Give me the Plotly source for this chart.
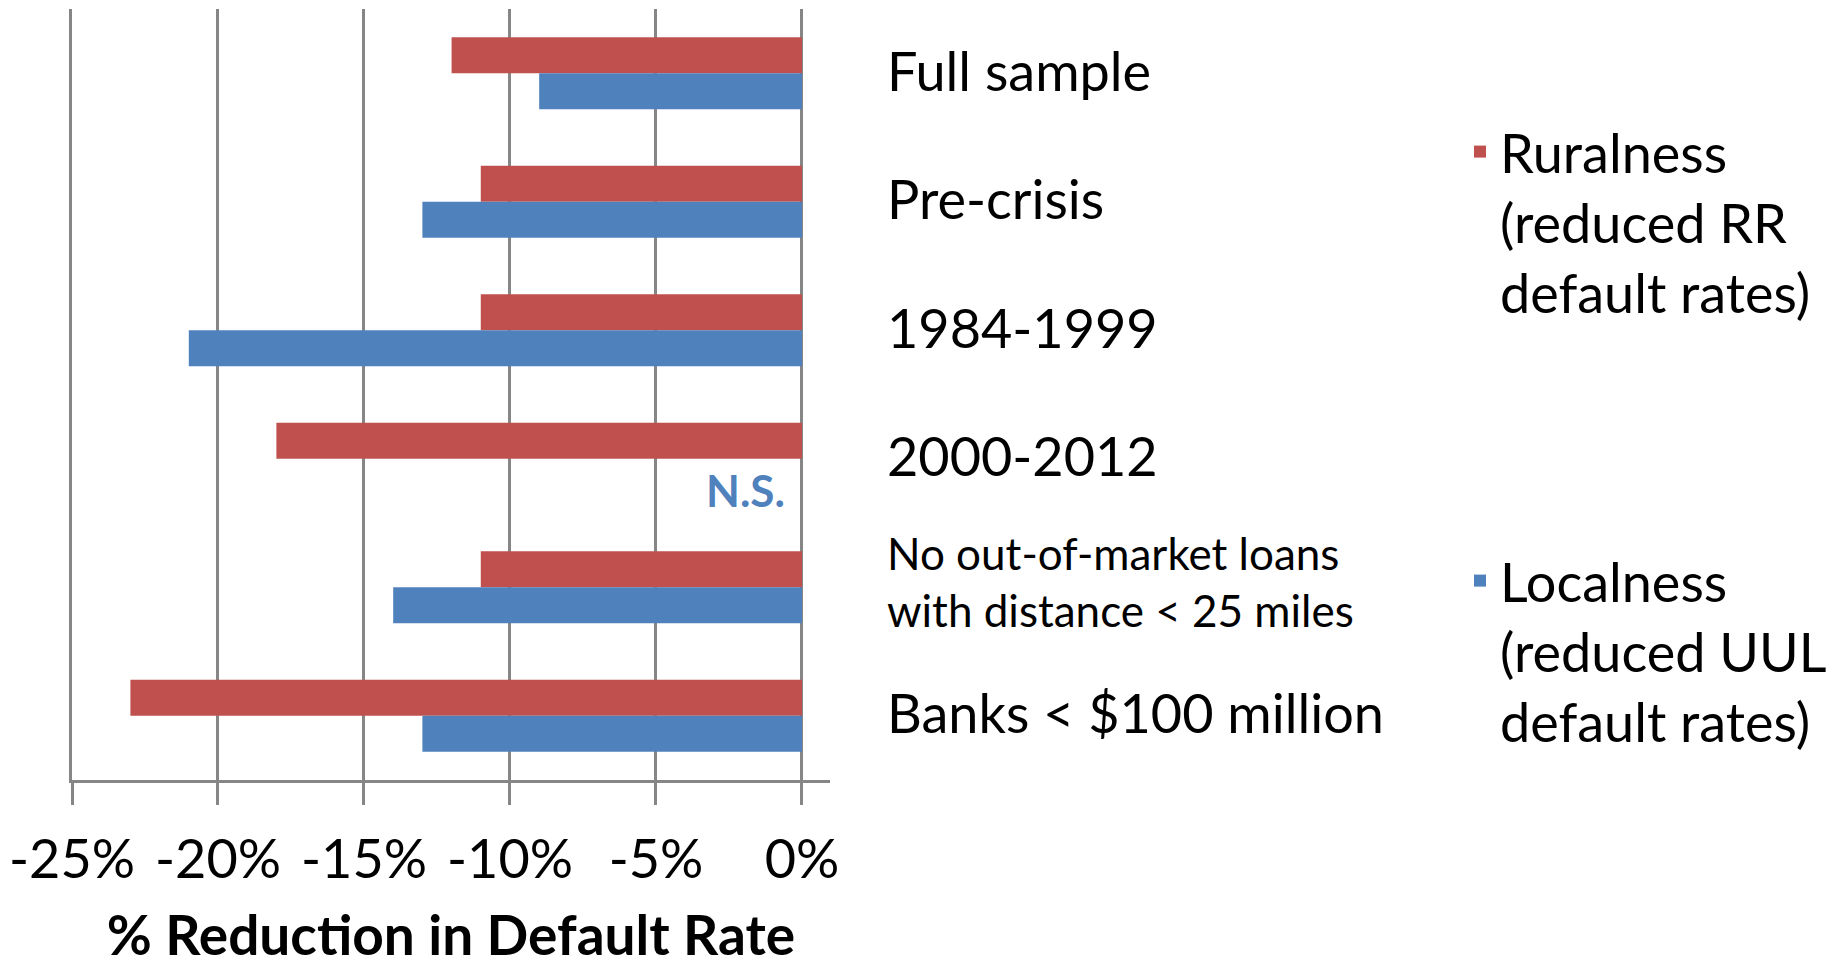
import plotly.graph_objects as go

categories = ["Full sample", "Pre-crisis", "1984-1999", "2000-2012",
              "No out-of-market loans<br>with distance < 25 miles", "Banks < $100 million"]
ruralness = [-0.12, -0.11, -0.11, -0.18, -0.11, -0.23]
localness = [-0.09, -0.13, -0.21, None, -0.14, -0.13]
tick_vals = [-0.25, -0.20, -0.15, -0.10, -0.05, 0.0]
tick_text = ["-25%", "-20%", "-15%", "-10%", "-5%", "0%"]
series_names = ["Ruralness<br>(reduced RR<br>default rates)",
                "Localness<br>(reduced UUL<br>default rates)"]
ns_label = "N.S."

RED = "#C0504D"
BLUE = "#4F81BD"
GRID = "#868686"
FONT = "Lato"
FS = 54

fig = go.Figure()
fig.add_trace(go.Bar(y=categories, x=ruralness, orientation="h", name=series_names[0],
                     marker=dict(color=RED, line=dict(width=0)), legend="legend"))
fig.add_trace(go.Bar(y=categories, x=localness, orientation="h", name=series_names[1],
                     marker=dict(color=BLUE, line=dict(width=0)), legend="legend2"))

annotations = []
for i, c in enumerate(categories):
    small = "<br>" in c
    annotations.append(dict(x=1.072, xref="paper", y=c, yref="y", text=c, showarrow=False,
                            xanchor="left", yanchor="middle", align="left",
                            yshift=6 if small else 3,
                            font=dict(family=FONT, size=44 if small else FS, color="black")))
annotations.append(dict(x=-0.005, xref="x", y=categories[3], yref="y", text="<b>%s</b>" % ns_label,
                        showarrow=False, xanchor="right", yanchor="middle", yshift=-31,
                        font=dict(family=FONT, size=44, color=BLUE)))

fig.update_layout(
    width=1847, height=967, autosize=False,
    margin=dict(l=72, r=1847 - 830, t=9, b=967 - 780, pad=0, autoexpand=False),
    paper_bgcolor="white", plot_bgcolor="white",
    barmode="group", bargap=0.44, bargroupgap=0,
    font=dict(family=FONT, size=FS, color="black"),
    xaxis=dict(range=[-0.25, 0.0096], tickmode="array", tickvals=tick_vals, ticktext=tick_text,
               showgrid=True, gridcolor=GRID, gridwidth=2.5, zeroline=False,
               showline=True, linecolor=GRID, linewidth=3,
               ticks="outside", ticklen=22, tickwidth=2.5, tickcolor=GRID,
               ticklabelstandoff=8,
               tickfont=dict(family=FONT, size=FS, color="black"),
               title=dict(text="<b>% Reduction in Default Rate</b>", standoff=40,
                          font=dict(family=FONT, size=55, color="black"))),
    yaxis=dict(categoryorder="array", categoryarray=categories, range=[5.5, -0.5],
               showticklabels=False, showgrid=False, zeroline=False,
               showline=True, linecolor=GRID, linewidth=2.5),
    legend=dict(x=1460 / 1847, xref="container", y=1 - 110 / 967, yref="container", yanchor="top",
                xanchor="left", valign="top", font=dict(family=FONT, size=FS, color="black"),
                bgcolor="rgba(0,0,0,0)"),
    legend2=dict(x=1460 / 1847, xref="container", y=1 - 539 / 967, yref="container", yanchor="top",
                 xanchor="left", valign="top", font=dict(family=FONT, size=FS, color="black"),
                 bgcolor="rgba(0,0,0,0)"),
    annotations=annotations,
    showlegend=True,
)
fig.write_html("out.html")
